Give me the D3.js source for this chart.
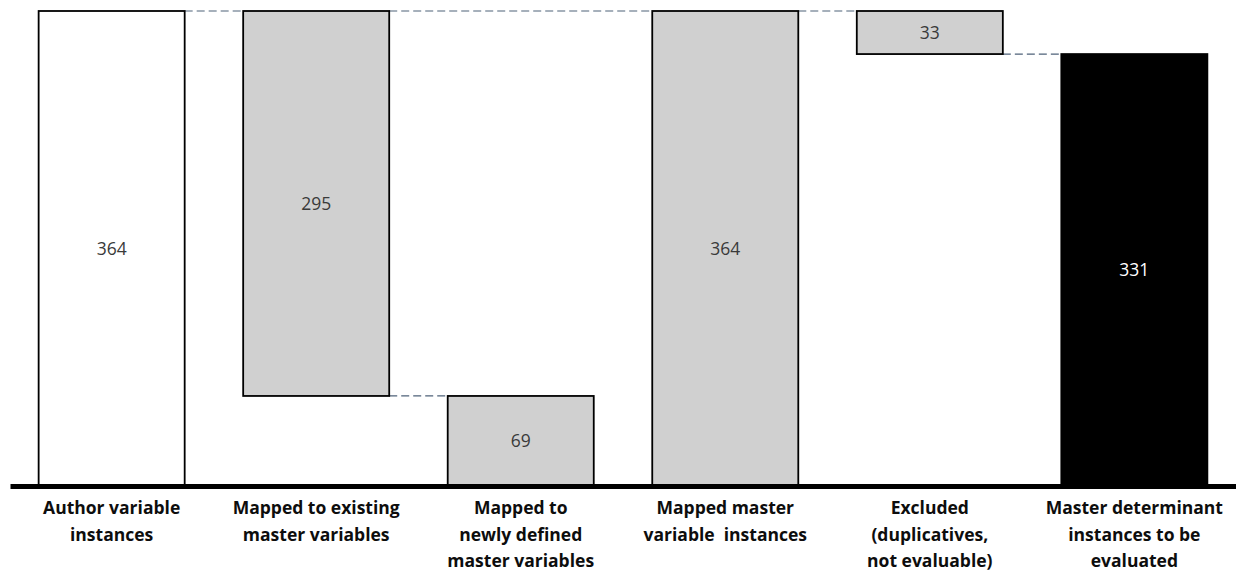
<!DOCTYPE html>
<html>
<head>
<meta charset="utf-8">
<script src="https://cdn.jsdelivr.net/npm/d3@7"></script>
<style>
  html, body { margin: 0; padding: 0; background: #fff; }
  svg { display: block; }
</style>
</head>
<body>
<svg id="chart" width="1236" height="572"></svg>
<script>
// Waterfall: how author variable instances flow into master determinant instances
const categories = [
  ["Author variable", "instances"],
  ["Mapped to existing", "master variables"],
  ["Mapped to", "newly defined", "master variables"],
  ["Mapped master", "variable  instances"],
  ["Excluded", "(duplicatives,", "not evaluable)"],
  ["Master determinant", "instances to be", "evaluated"]
];
const barStart = [0, 69, 0, 0, 331, 0];
const barEnd   = [364, 364, 69, 364, 364, 331];
const barValue = [364, 295, 69, 364, 33, 331];
const barKind  = ["start", "step", "step", "subtotal", "step", "final"];

// connectors: [from bar index, to bar index, level]
const connFrom  = [0, 1, 1, 3, 4];
const connTo    = [1, 3, 2, 4, 5];
const connLevel = [364, 364, 69, 364, 331];

const W = 1236, H = 572;
const svg = d3.select("#chart");

const x = d3.scaleBand()
  .domain(d3.range(categories.length))
  .range([10, W])
  .paddingInner(0.286)
  .paddingOuter(0.14);

const y = d3.scaleLinear().domain([0, 364]).range([486, 11]);

const fillFor = k => k === "start" ? "#ffffff" : (k === "final" ? "#000000" : "#d0d0d0");
const font = "'Open Sans', 'Liberation Sans', sans-serif";

// dashed connectors
svg.append("g").selectAll("line")
  .data(connFrom.map((f, i) => ({ f, t: connTo[i], v: connLevel[i] })))
  .join("line")
  .attr("x1", d => x(d.f) + x.bandwidth())
  .attr("x2", d => x(d.t))
  .attr("y1", d => y(d.v))
  .attr("y2", d => y(d.v))
  .attr("stroke", "#4f6279")
  .attr("stroke-width", 1.2)
  .attr("stroke-dasharray", "8,4");

// bars
const bars = categories.map((c, i) => ({ i, s: barStart[i], e: barEnd[i], v: barValue[i], k: barKind[i] }));
svg.append("g").selectAll("rect")
  .data(bars)
  .join("rect")
  .attr("x", d => x(d.i))
  .attr("width", x.bandwidth())
  .attr("y", d => y(d.e))
  .attr("height", d => y(d.s) - y(d.e))
  .attr("fill", d => fillFor(d.k))
  .attr("stroke", "#000")
  .attr("stroke-width", 1.8);

// value labels
svg.append("g").selectAll("text")
  .data(bars)
  .join("text")
  .attr("x", d => x(d.i) + x.bandwidth() / 2)
  .attr("y", d => (y(d.s) + y(d.e)) / 2)
  .attr("dy", "0.36em")
  .attr("text-anchor", "middle")
  .attr("font-family", font)
  .attr("font-size", 17.5)
  .attr("fill", d => d.k === "final" ? "#ffffff" : "#3a3a3a")
  .text(d => d.v);

// baseline axis
const axis = d3.axisBottom(x).tickSize(0).tickFormat("");
const ag = svg.append("g").attr("transform", `translate(0,${y(0)})`).call(axis);
ag.select(".domain").attr("stroke", "#000").attr("stroke-width", 5);

// category labels
const lab = svg.append("g").selectAll("text")
  .data(categories)
  .join("text")
  .attr("x", (d, i) => x(i) + x.bandwidth() / 2)
  .attr("y", 514)
  .attr("text-anchor", "middle")
  .attr("font-family", font)
  .attr("font-weight", "bold")
  .attr("font-size", 17.5)
  .attr("fill", "#0d0d0d");
lab.selectAll("tspan")
  .data(d => d)
  .join("tspan")
  .attr("x", function () { return this.parentNode.getAttribute("x"); })
  .attr("dy", (d, j) => j === 0 ? 0 : 26.5)
  .style("white-space", "pre")
  .text(d => d);
</script>
</body>
</html>
